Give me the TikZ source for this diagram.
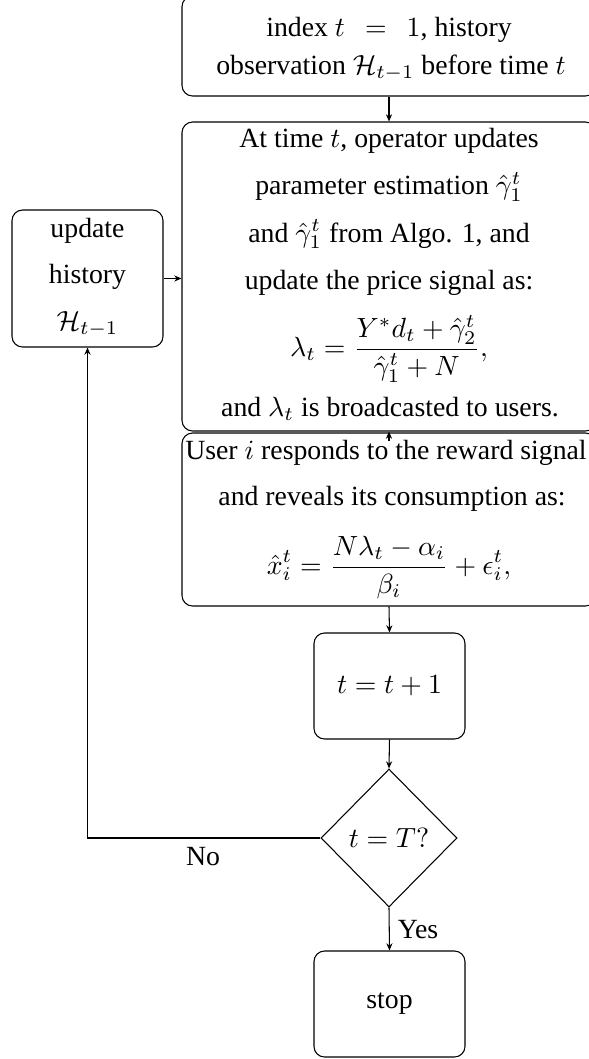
\documentclass[tikz,border=0pt]{standalone}
\usepackage{fontspec}
\setmainfont{Liberation Serif}
\usetikzlibrary{shapes.geometric,arrows.meta}
\def\PX{0.36pt}
\begin{document}
\begin{tikzpicture}[x=0.36pt,y=-0.36pt, line width=0.38pt,
  box/.style={draw, rounded corners=3.8pt, inner sep=0pt},
  dia/.style={draw, diamond, inner sep=0pt},
  txt/.style={anchor=base, inner sep=0pt, font=\fontsize{10}{12}\selectfont},
  arr/.style={-{Stealth[length=2.6pt,width=2.2pt]}}]
\clip (0,0) rectangle (589,1059);
\useasboundingbox (0,0) rectangle (589,1059);

% boxes
\node[box, minimum width=414*\PX, minimum height=100*\PX] (b1) at (389,46) {};
\node[box, minimum width=414*\PX, minimum height=309*\PX] (b2) at (389,276.5) {};
\node[box, minimum width=414*\PX, minimum height=173*\PX] (b3) at (389,519.5) {};
\node[box, minimum width=151*\PX, minimum height=106*\PX] (b4) at (389.5,686) {};
\node[dia, minimum width=136*\PX, minimum height=138*\PX] (dec) at (389,838) {};
\node[box, minimum width=151*\PX, minimum height=106*\PX] (stop) at (389.5,1004) {};
\node[box, minimum width=151*\PX, minimum height=137*\PX] (lb) at (87.5,278.5) {};

% texts
\node[txt] (t1a) at (389,36) {index $t\;\,=\;\,1$, history};
\node[txt] (t1b) at (391,74) {observation $\mathcal{H}_{t-1}$ before time $t$};

\node[txt] (t2a) at (389,147) {At time $t$, operator updates};
\node[txt] (t2b) at (389,194.5) {parameter estimation $\hat{\gamma}_1^t$};
\node[txt] (t2c) at (389,242) {and $\hat{\gamma}_1^t$ from Algo. 1, and};
\node[txt] (t2d) at (389,289.5) {update the price signal as:};
\node[txt] (t2e) at (389,356) {$\displaystyle \lambda_t = \frac{Y^* d_t + \hat{\gamma}_2^t}{\hat{\gamma}_1^t + N},$};
\node[txt] (t2f) at (390,416) {and $\lambda_t$ is broadcasted to users.};

\node[txt] (t3a) at (386,459) {User $i$ responds to the reward signal};
\node[txt] (t3b) at (392,505) {and reveals its consumption as:};
\node[txt] (t3c) at (389,574) {$\displaystyle \hat{x}_i^t = \frac{N\lambda_t - \alpha_i}{\beta_i} + \epsilon_i^t,$};

\node[txt, anchor=center] (t4) at (b4.center) {$t = t+1$};
\node[txt, anchor=center] (t5) at (dec.center) {$t = T?$};
\node[txt, anchor=center] (t6) at (stop.center) {stop};

\node[txt] (l1) at (87.5,237) {update};
\node[txt] (l2) at (87.5,283) {history};
\node[txt] (l3) at (87.5,330) {$\mathcal{H}_{t-1}$};

\node[txt] (no) at (203,865) {No};
\node[txt] (yes) at (418,938) {Yes};

% connectors
\draw[arr] (b1.south) -- (b2.north);
\coordinate (up) at (389,441);
\draw[arr] (up) -- (b2.south);
\draw[arr] (b3.south) -- (b4.north);
\draw[arr] (b4.south) -- (dec.north);
\draw[arr] (dec.south) -- (stop.north);
\draw[arr] (dec.west) -| (lb.south);
\draw[arr] (lb.east) -- (lb.east -| b2.west);
\end{tikzpicture}
\end{document}
